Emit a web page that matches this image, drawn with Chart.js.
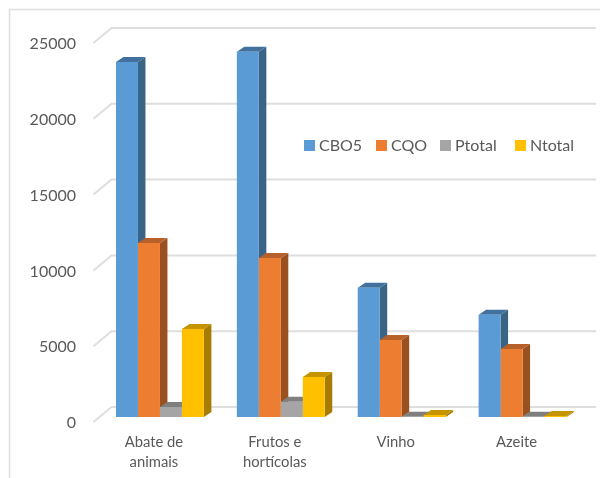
<!DOCTYPE html>
<html>
<head>
<meta charset="utf-8">
<style>
  html, body { margin: 0; padding: 0; background: #fff; }
  #wrap { width: 600px; height: 478px; position: relative; }
</style>
</head>
<body>
<div id="wrap"><canvas id="barChart" width="600" height="478"></canvas></div>
<script src="https://cdn.jsdelivr.net/npm/chart.js@4"></script>
<script>
const categories = [['Abate de', 'animais'], ['Frutos e', 'hortícolas'], 'Vinho', 'Azeite']
const cbo5 = [23420, 24100, 8520, 6740]
const cqo = [11480, 10490, 5080, 4490]
const ptotal = [660, 1010, 20, 20]
const ntotal = [5810, 2640, 130, 60]
const yTicks = [0, 5000, 10000, 15000, 20000, 25000]

const FONT = 'Lato, "Open Sans", sans-serif'
const TEXT = '#595959'
const GRID = '#DEDEDE'
const DX = 7.5, DY = 5 // bar depth

const seriesStyle = [
    { label: 'CBO5', data: cbo5, face: '#5B9BD5', side: '#3A6486', top: '#41719C' },
    { label: 'CQO', data: cqo, face: '#ED7D31', side: '#9A511F', top: '#B8602A' },
    { label: 'Ptotal', data: ptotal, face: '#A5A5A5', side: '#6B6B6B', top: '#7F7F7F' },
    { label: 'Ntotal', data: ntotal, face: '#FFC000', side: '#A67D00', top: '#C49500' }
]

// back wall, floor slants and the outer frame
const wallPlugin = {
    id: 'wall',
    beforeDraw(chart) {
        const c = chart.ctx, y = chart.scales.y, area = chart.chartArea
        c.save()
        c.strokeStyle = GRID
        c.lineWidth = 1.5
        c.beginPath()
        c.moveTo(9.5, 478); c.lineTo(9.5, 9.5); c.lineTo(600, 9.5)
        c.stroke()
        c.lineWidth = 2
        yTicks.forEach(t => {
            const py = y.getPixelForValue(t)
            c.beginPath()
            c.moveTo(area.left - 6, py + 5)
            c.lineTo(area.left + 12, py - 10)
            c.lineTo(area.right + 13, py - 10)
            c.stroke()
        })
        c.restore()
    },
    // sides and tops go under the fronts, left to right
    beforeDatasetsDraw(chart) {
        const c = chart.ctx
        c.save()
        categories.forEach((cat, i) => {
            seriesStyle.forEach((s, d) => {
                const bar = chart.getDatasetMeta(d).data[i]
                const l = bar.x - bar.width / 2, r = bar.x + bar.width / 2
                c.fillStyle = s.side
                c.beginPath()
                c.moveTo(r, bar.y); c.lineTo(r + DX, bar.y - DY)
                c.lineTo(r + DX, bar.base - DY); c.lineTo(r, bar.base)
                c.closePath(); c.fill()
                c.fillStyle = s.top
                c.beginPath()
                c.moveTo(l, bar.y); c.lineTo(l + DX, bar.y - DY)
                c.lineTo(r + DX, bar.y - DY); c.lineTo(r, bar.y)
                c.closePath(); c.fill()
            })
        })
        c.restore()
    },
    afterDraw(chart) {
        const c = chart.ctx
        const boxes = [304, 376, 440, 515]
        c.save()
        c.font = '16px ' + FONT
        c.textBaseline = 'middle'
        seriesStyle.forEach((s, i) => {
            c.fillStyle = s.face
            c.fillRect(boxes[i], 140, 11, 11)
            c.fillStyle = TEXT
            c.fillText(s.label, boxes[i] + 15, 146)
        })
        c.restore()
    }
}

new Chart(document.getElementById('barChart'), {
    type: 'bar',
    data: {
        labels: categories,
        datasets: seriesStyle.map(s => ({
            label: s.label,
            data: s.data,
            backgroundColor: s.face,
            categoryPercentage: 88 / 121,
            barPercentage: 1
        }))
    },
    options: {
        responsive: false,
        animation: false,
        layout: { padding: { left: 0, right: 17, top: 38, bottom: 0 } },
        plugins: { legend: { display: false }, tooltip: { enabled: false } },
        scales: {
            x: {
                grid: { display: false },
                border: { display: false },
                afterFit(axis) { axis.height = 61 },
                ticks: {
                    color: TEXT,
                    font: { family: FONT, size: 14.8, lineHeight: 1.35 },
                    maxRotation: 0,
                    padding: 7,
                    labelOffset: -6
                }
            },
            y: {
                min: 0,
                max: 25000,
                position: 'left',
                grid: { display: false },
                border: { display: false },
                afterFit(axis) { axis.width = 99.5 },
                afterBuildTicks(axis) { axis.ticks = yTicks.map(v => ({ value: v })) },
                ticks: {
                    color: TEXT,
                    font: { family: FONT, size: 16 },
                    padding: 15.5,
                    labelOffset: 6,
                    callback: v => String(v)
                }
            }
        }
    },
    plugins: [wallPlugin]
})
</script>
</body>
</html>
